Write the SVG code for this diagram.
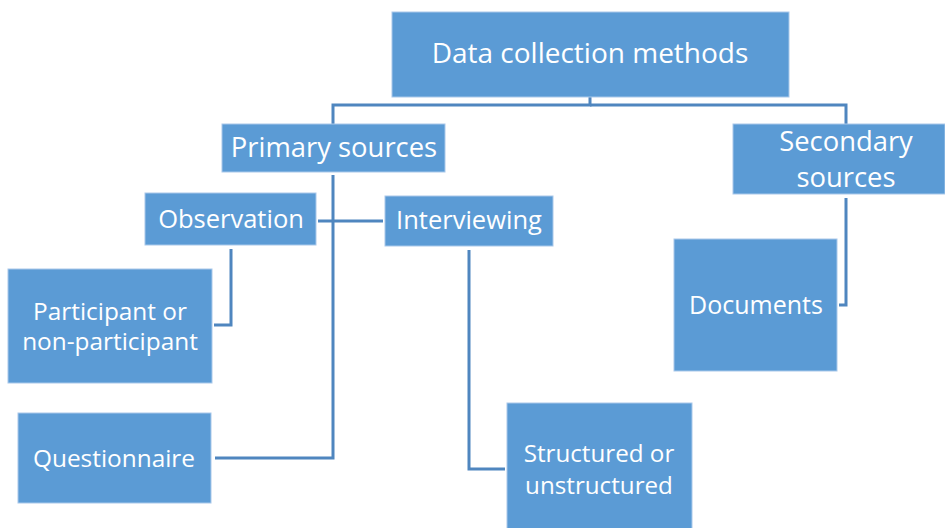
<svg xmlns="http://www.w3.org/2000/svg" width="945" height="528" viewBox="0 0 945 528">
<style>
.box{fill:#5B9BD5;stroke:#A9C8EA;stroke-width:1}
.t{fill:#fff;font-family:"Open Sans","Noto Sans",sans-serif;text-anchor:middle;dominant-baseline:central}
.c{fill:none;stroke:#4F86BF;stroke-width:3}
</style>
<rect width="945" height="528" fill="#fff"/>
<g id="connectors">
<polyline class="c" points="590,97 590,105 333,105 333,124"/>
<polyline class="c" points="590,105 846,105 846,124"/>
<polyline class="c" points="333,175 333,458 215,458"/>
<line class="c" x1="318" y1="221" x2="383" y2="221"/>
<polyline class="c" points="846,198 846,305 839,305"/>
<polyline class="c" points="231,249 231,325 214,325"/>
<polyline class="c" points="469,250 469,469 505,469"/>
</g>
<g id="n-data"><rect class="box" x="392" y="12" width="397" height="85"/><text class="t" x="590" y="52" font-size="28">Data collection methods</text></g>
<g id="n-primary"><rect class="box" x="222" y="124" width="223" height="48"/><text class="t" x="334" y="146" font-size="27.4">Primary sources</text></g>
<g id="n-secondary"><rect class="box" x="733" y="124" width="212" height="70"/><text class="t" x="846" y="140" font-size="27.4">Secondary</text><text class="t" x="846" y="176" font-size="27.4">sources</text></g>
<g id="n-observation"><rect class="box" x="145" y="193" width="171" height="52"/><text class="t" x="231" y="218" font-size="25.5">Observation</text></g>
<g id="n-interviewing"><rect class="box" x="385" y="196" width="168" height="50"/><text class="t" x="469" y="219" font-size="25.5">Interviewing</text></g>
<g id="n-participant"><rect class="box" x="8" y="269" width="204" height="114"/><text class="t" x="110" y="310" font-size="24.4">Participant or</text><text class="t" x="110" y="340" font-size="24.4">non-participant</text></g>
<g id="n-questionnaire"><rect class="box" x="18" y="413" width="193" height="90"/><text class="t" x="114" y="457" font-size="24.4">Questionnaire</text></g>
<g id="n-documents"><rect class="box" x="674" y="239" width="163" height="132"/><text class="t" x="756" y="304" font-size="25">Documents</text></g>
<g id="n-structured"><rect class="box" x="507" y="403" width="185" height="126"/><text class="t" x="599" y="452" font-size="24.2">Structured or</text><text class="t" x="599" y="484" font-size="24.2">unstructured</text></g>
</svg>
